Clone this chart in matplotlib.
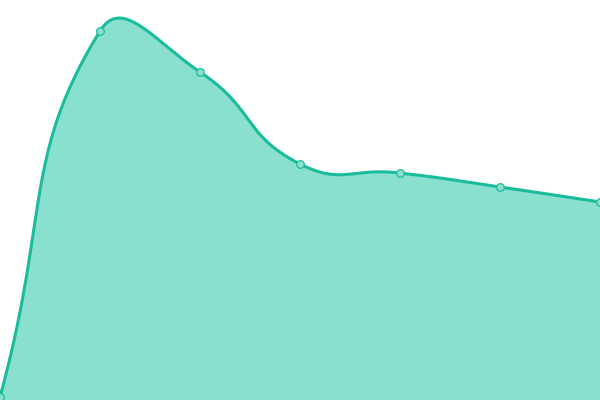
import numpy as np
import matplotlib
matplotlib.use("Agg")
import matplotlib.pyplot as plt

categories = [0, 1, 2, 3, 4, 5, 6]
values = [3, 369, 328, 236, 227, 213, 198]

LINE = "#1abc9c"
FILL = "#8ae0cf"
MARKER_FILL = "#8ae0cf"

fig = plt.figure(figsize=(6, 4), dpi=100)
ax = fig.add_axes([0, 0, 1, 1])
ax.set_xlim(0, 6)
ax.set_ylim(0, 400)
ax.axis("off")

# ECharts-like smooth bezier computed in display space
pts = ax.transData.transform(np.column_stack([categories, values]))
smooth = 0.5
n = len(pts)


def ctrl(i):
    p = pts[i]
    prev = pts[i - 1] if i > 0 else p
    nxt = pts[i + 1] if i < n - 1 else p
    v = nxt - prev
    lp = np.linalg.norm(p - prev)
    ln = np.linalg.norm(nxt - p)
    r = ln / (ln + lp)
    cin = p - v * smooth * (1 - r)
    cout = p + v * smooth * r
    return cin, cout


curve = []
for i in range(n - 1):
    p0 = pts[i]
    p1 = pts[i + 1]
    c0 = ctrl(i)[1]
    c1 = ctrl(i + 1)[0]
    t = np.linspace(0, 1, 80)[:, None]
    seg = ((1 - t) ** 3) * p0 + 3 * ((1 - t) ** 2) * t * c0 + 3 * (1 - t) * t ** 2 * c1 + t ** 3 * p1
    if i > 0:
        seg = seg[1:]
    curve.append(seg)
curve = np.vstack(curve)
data_curve = ax.transData.inverted().transform(curve)

ax.fill_between(data_curve[:, 0], data_curve[:, 1], 0, color=FILL, lw=0, zorder=1)
ax.plot(data_curve[:, 0], data_curve[:, 1], color=LINE, lw=2.2, zorder=2,
        solid_capstyle="round", clip_on=False)
ax.plot(categories, values, "o", ms=5.5, mfc=MARKER_FILL, mec=LINE, mew=0.9, zorder=3,
        clip_on=True)

fig.savefig("out.png", dpi=100)
